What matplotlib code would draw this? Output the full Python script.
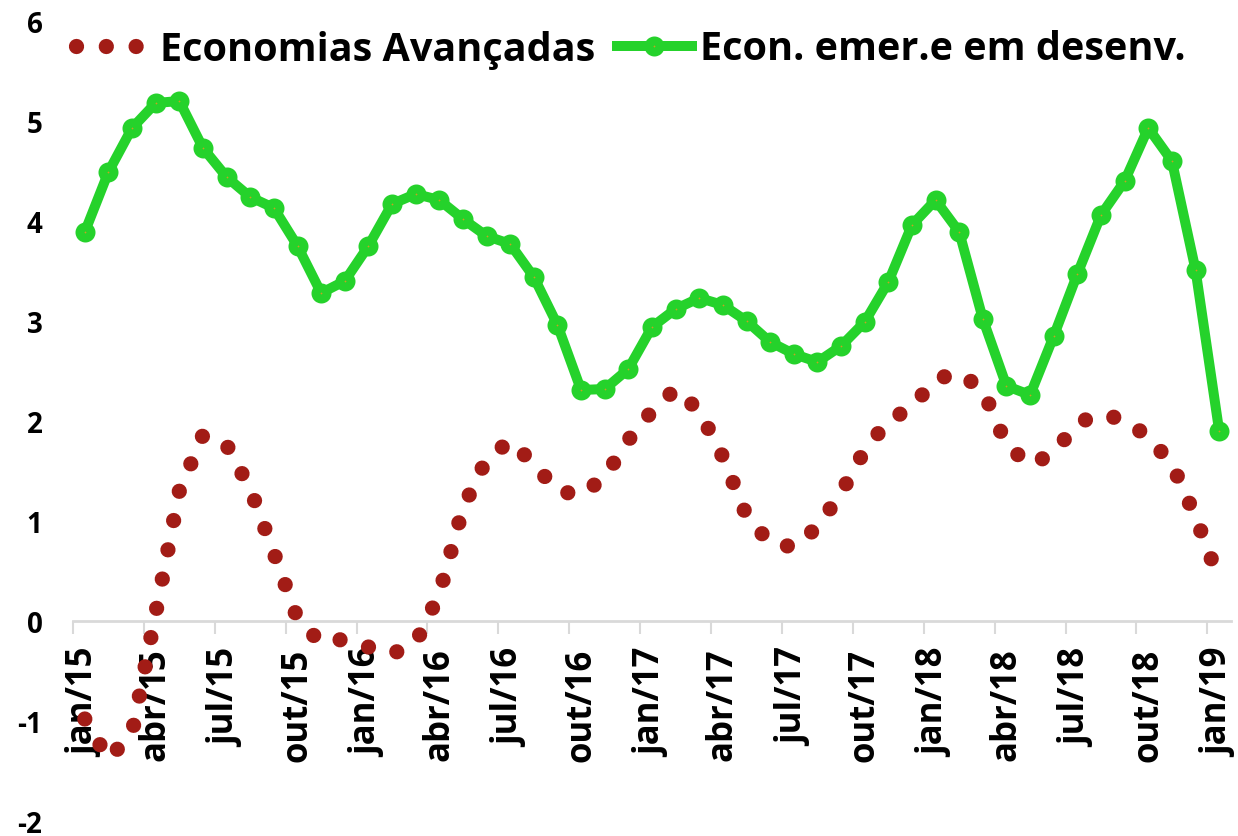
import numpy as np
import matplotlib
matplotlib.use("Agg")
import matplotlib.pyplot as plt

plt.rcParams['font.family'] = ['Open Sans', 'DejaVu Sans']
plt.rcParams['font.weight'] = 'bold'
plt.rcParams['axes.unicode_minus'] = False

# months jan/15 .. jan/19
meses = ['jan', 'fev', 'mar', 'abr', 'mai', 'jun', 'jul', 'ago', 'set', 'out', 'nov', 'dez']
datas = [m + '/' + str(a) for a in range(15, 20) for m in meses][:49]

avancadas = [-0.98, -1.38, -1.12, 0.08, 1.30, 1.86, 1.76, 1.32, 0.68, 0.02,
             -0.22, -0.18, -0.26, -0.33, -0.22, 0.27, 1.13, 1.62, 1.80, 1.57,
             1.30, 1.26, 1.44, 1.81, 2.10, 2.32, 2.10, 1.64, 1.05, 0.78,
             0.74, 0.94, 1.28, 1.71, 2.00, 2.14, 2.42, 2.48, 2.31, 1.76,
             1.56, 1.68, 1.98, 2.07, 2.01, 1.84, 1.57, 1.04, 0.41]

emergentes = [3.89, 4.49, 4.93, 5.18, 5.20, 4.73, 4.44, 4.24, 4.13, 3.75,
              3.28, 3.40, 3.75, 4.17, 4.27, 4.21, 4.02, 3.85, 3.77, 3.44,
              2.96, 2.31, 2.32, 2.52, 2.94, 3.12, 3.23, 3.16, 3.00, 2.79,
              2.67, 2.59, 2.75, 2.99, 3.39, 3.96, 4.21, 3.89, 3.02, 2.35,
              2.26, 2.85, 3.47, 4.06, 4.40, 4.93, 4.60, 3.51, 1.90]

x = np.arange(len(datas))

fig = plt.figure(figsize=(12.38, 8.37), dpi=100)
ax = fig.add_axes([73 / 1238, 1 - 822 / 837, 1158 / 1238, 800 / 837])

ax.plot(x, avancadas, color='#A21C16', lw=11, linestyle=(0, (0.001, 1.95)),
        dash_capstyle='round', label='Economias Avançadas', zorder=3)
ax.plot(x, emergentes, color='#25D22B', lw=7.2, marker='o', ms=8, mew=6.4,
        mec='#25D22B', mfc='#C8A020', solid_joinstyle='round',
        label='Econ. emer.e em desenv.', zorder=4)

ax.set_xlim(-0.5, 48.5)
ax.set_ylim(-2, 6)
ax.set_yticks(range(-2, 7))
ax.tick_params(axis='y', length=0, pad=22, labelsize=20)

# labels at category centres, tick marks between categories
ax.set_xticks(x[::3])
ax.set_xticklabels(datas[::3])
ax.tick_params(axis='x', which='major', length=0, pad=19, labelsize=25, labelrotation=90)
ax.set_xticks(np.arange(-0.5, 48, 3), minor=True)
ax.tick_params(axis='x', which='minor', direction='out', length=9.5, width=1.5, color='#d9d9d9')

for s in ['top', 'right', 'left']:
    ax.spines[s].set_visible(False)
ax.spines['bottom'].set_position(('data', 0))
ax.spines['bottom'].set_color('#d9d9d9')
ax.spines['bottom'].set_linewidth(2)

ax.legend(loc='center left', bbox_to_anchor=(0.003, 0.965), ncol=2, frameon=False,
          prop={'size': 28.5, 'weight': 'bold'}, handlelength=1.9, handletextpad=0.2,
          columnspacing=0.55, borderpad=0, borderaxespad=0, numpoints=1)

fig.savefig('out.png', dpi=100, facecolor='white')
